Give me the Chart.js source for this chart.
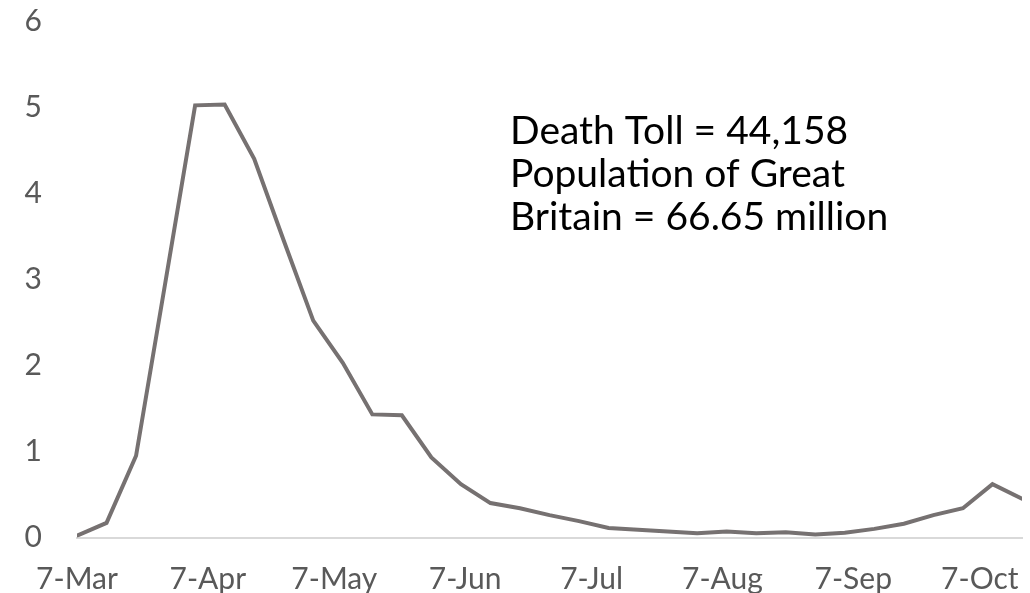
<!DOCTYPE html>
<html>
<head>
<meta charset="utf-8">
<script src="https://cdn.jsdelivr.net/npm/chart.js@4.4.1/dist/chart.umd.min.js"></script>
<style>
  html, body { margin: 0; padding: 0; background: #ffffff; }
  #wrap { width: 1030px; height: 593px; position: relative; }
</style>
</head>
<body>
<div id="wrap"><canvas id="chart" width="1030" height="593"></canvas></div>
<script>
// Weekly series (week ending dates) and the weekly rate
const weekDates = [
  '2020-03-07','2020-03-14','2020-03-21','2020-03-28','2020-04-04','2020-04-11',
  '2020-04-18','2020-04-25','2020-05-02','2020-05-09','2020-05-16','2020-05-23',
  '2020-05-30','2020-06-06','2020-06-13','2020-06-20','2020-06-27','2020-07-04',
  '2020-07-11','2020-07-18','2020-07-25','2020-08-01','2020-08-08','2020-08-15',
  '2020-08-22','2020-08-29','2020-09-05','2020-09-12','2020-09-19','2020-09-26',
  '2020-10-03','2020-10-10','2020-10-17'
];
const weeklyRate = [
  0.02, 0.17, 0.95, 2.98, 5.02, 5.03, 4.40, 3.45, 2.52, 2.03, 1.43,
  1.42, 0.93, 0.62, 0.40, 0.34, 0.26, 0.19, 0.11, 0.09, 0.07, 0.05,
  0.07, 0.05, 0.06, 0.035, 0.055, 0.10, 0.16, 0.26, 0.34, 0.62, 0.45
];

// Date-axis labels
const tickDates = ['2020-03-07','2020-04-07','2020-05-07','2020-06-07',
                   '2020-07-07','2020-08-07','2020-09-07','2020-10-07'];
const tickLabels = ['7-Mar','7-Apr','7-May','7-Jun','7-Jul','7-Aug','7-Sep','7-Oct'];

// Text box lines
const noteLines = ['Death Toll = 44,158', 'Population of Great', 'Britain = 66.65 million'];

const DAY = 86400000;
const origin = Date.parse(weekDates[0]);
const dayOf = d => Math.round((Date.parse(d) - origin) / DAY);

const points = weekDates.map((d, i) => ({ x: dayOf(d), y: weeklyRate[i] }));
const tickDays = tickDates.map(dayOf);
const labelByDay = {};
tickDays.forEach((d, i) => { labelByDay[d] = tickLabels[i]; });

const noteBox = {
  id: 'noteBox',
  afterDraw(chart) {
    const ctx = chart.ctx;
    ctx.save();
    ctx.font = '39px Lato';
    ctx.fillStyle = '#000000';
    ctx.textAlign = 'left';
    ctx.textBaseline = 'middle';
    noteLines.forEach((t, i) => ctx.fillText(t, 510, 131 + i * 43));
    ctx.restore();
  }
};

const tickFont = { family: 'Lato', size: 30 };

new Chart(document.getElementById('chart'), {
  type: 'line',
  data: {
    datasets: [{
      data: points,
      borderColor: '#767171',
      borderWidth: 4,
      borderCapStyle: 'round',
      borderJoinStyle: 'miter',
      pointRadius: 0,
      tension: 0,
      fill: false
    }]
  },
  options: {
    responsive: false,
    animation: false,
    devicePixelRatio: 1,
    layout: { padding: { top: 21, right: 8, left: 0, bottom: 0 } },
    plugins: { legend: { display: false }, tooltip: { enabled: false } },
    scales: {
      x: {
        type: 'linear',
        min: 0,
        max: dayOf(weekDates[weekDates.length - 1]),
        afterBuildTicks(scale) { scale.ticks = tickDays.map(v => ({ value: v })); },
        afterFit(scale) {
          scale.height = 55.5;
          scale.paddingLeft = 0;
          scale.paddingRight = 0;
        },
        grid: { display: false, drawTicks: false },
        border: { display: true, color: '#d9d9d9', width: 2 },
        ticks: {
          autoSkip: false,
          maxRotation: 0,
          padding: 24,
          color: '#595959',
          font: tickFont,
          callback: v => labelByDay[v] ?? ''
        }
      },
      y: {
        min: 0,
        max: 6,
        afterFit(scale) {
          scale.width = 77;
          scale.paddingTop = 0;
          scale.paddingBottom = 0;
        },
        grid: { display: false, drawTicks: false },
        border: { display: false },
        ticks: {
          stepSize: 1,
          padding: 35,
          color: '#595959',
          font: tickFont
        }
      }
    }
  },
  plugins: [noteBox]
});
</script>
</body>
</html>
